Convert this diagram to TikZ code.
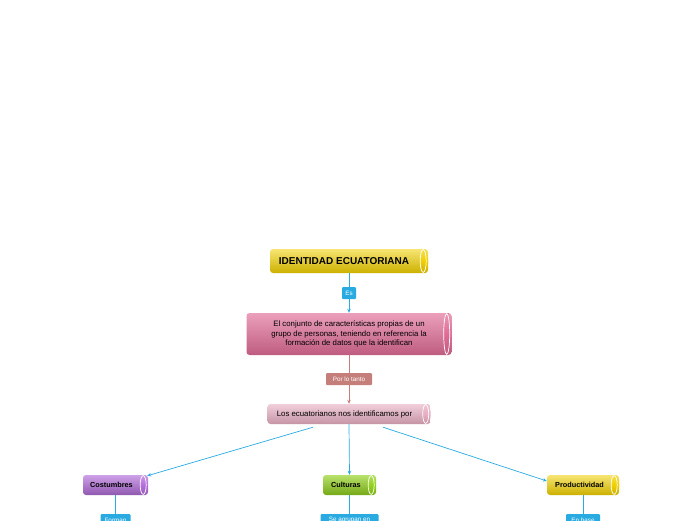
\documentclass[tikz,border=0pt]{standalone}
\usepackage{fontspec}
\setmainfont{Liberation Sans}
\usetikzlibrary{calc,arrows.meta}
\definecolor{lblue}{HTML}{29ABE2}
\definecolor{lbrown}{HTML}{C47F7A}
\tikzset{
  x=1pt,y=-1pt,
  cyl/.style={rounded corners=3pt, inner sep=0pt, align=center, text=black},
  capline/.style={draw=white, line width=0.7pt},
  lbl/.style={rounded corners=1pt, fill=lblue, text=white, font=\fontsize{6.3}{7}\selectfont, inner sep=0pt, minimum height=12pt},
  bline/.style={draw=lblue, line width=0.7pt},
  barrow/.style={bline, -{Stealth[length=4pt,width=3.5pt]}},
  brline/.style={draw=lbrown, line width=0.7pt},
  brarrow/.style={brline, -{Stealth[length=4pt,width=3.5pt]}},
}
\definecolor{cyel}{HTML}{F0D000}
\definecolor{cpink}{HTML}{E06C96}
\definecolor{clpink}{HTML}{E8AEC3}
\definecolor{cpurp}{HTML}{B46EDC}
\definecolor{cgreen}{HTML}{92D21C}
\newcommand{\rcap}[3]{% node, half height, color
  \fill[#3] ([xshift=-5pt]#1.north east) rectangle ([xshift=-3pt]#1.south east);
  \shade[top color=#3!70!white, bottom color=#3!85!black, middle color=#3] ([xshift=-4pt]#1.east) ellipse [x radius=4pt, y radius=#2];
  \draw[capline] ([xshift=-5pt]#1.east) ellipse [x radius=3pt, y radius=#2-0.6pt];
}
\begin{document}
\begin{tikzpicture}
\useasboundingbox (0,0) rectangle (696,520);
\fill[white] (0,0) rectangle (696,520);

% main title
\node[cyl, top color=cyel!55!white, middle color=cyel, bottom color=cyel!85!black,
  minimum width=158pt, minimum height=24pt, font=\bfseries\fontsize{10}{11}\selectfont]
  (id) at (349,261) {IDENTIDAD ECUATORIANA\hspace{10pt}};
\rcap{id}{12pt}{cyel}

\node[lbl, minimum width=14pt] (es) at (349,293) {Es};

% definition
\node[cyl, top color=cpink!65!white, middle color=cpink, bottom color=cpink!85!black,
  minimum width=205pt, minimum height=42pt, font=\fontsize{7.8}{9.2}\selectfont]
  (def) at (349,334) {El conjunto de características propias de un\\grupo de personas, teniendo en referencia la\\formación de datos que la identifican\hspace{0pt}};
\rcap{def}{21pt}{cpink}

\node[lbl, fill=lbrown, minimum width=46pt] (plt) at (349,379) {Por lo tanto};

% ecuatorianos
\node[cyl, top color=clpink!60!white, middle color=clpink, bottom color=clpink!85!black,
  minimum width=163pt, minimum height=20pt, font=\fontsize{7.8}{8.5}\selectfont]
  (eco) at (349,414) {Los ecuatorianos nos identificamos por\hspace{9pt}};
\rcap{eco}{10pt}{clpink}

% three categories
\node[cyl, top color=cpurp!65!white, middle color=cpurp, bottom color=cpurp!80!black,
  minimum width=65pt, minimum height=20pt, font=\bfseries\fontsize{7.3}{8}\selectfont]
  (cos) at (115.5,485) {Costumbres\hspace{8pt}};
\rcap{cos}{10pt}{cpurp}

\node[cyl, top color=cgreen!65!white, middle color=cgreen, bottom color=cgreen!80!black,
  minimum width=53pt, minimum height=20pt, font=\bfseries\fontsize{7.3}{8}\selectfont]
  (cul) at (349.5,485) {Culturas\hspace{7pt}};
\rcap{cul}{10pt}{cgreen}

\node[cyl, top color=cyel!55!white, middle color=cyel, bottom color=cyel!85!black,
  minimum width=72pt, minimum height=20pt, font=\bfseries\fontsize{7.3}{8}\selectfont]
  (pro) at (583,485) {Productividad\hspace{7pt}};
\rcap{pro}{10pt}{cyel}

% bottom labels (cut by the page edge, as in the reference)
\node[lbl, minimum width=30pt] (lc) at (115.5,520) {Forman};
\node[lbl, minimum width=58pt] (lu) at (349.5,520) {Se agrupan en};
\node[lbl, minimum width=34pt] (lp) at (583,520) {En base};

% connectors
\draw[bline] (id.south) -- (es.north);
\draw[barrow] (es.south) -- (def.north);
\draw[brline] (def.south) -- (plt.north);
\draw[brarrow] (plt.south) -- (eco.north);
\draw[barrow] ($(eco.south)+(-36,3)$) -- ($(cos.north east)+(-1,1)$);
\draw[barrow] (eco.south) -- (cul.north);
\draw[barrow] ($(eco.south)+(34,3)$) -- ($(pro.west)+(0,-4)$);
\draw[bline] (cos.south) -- (lc.north);
\draw[bline] (cul.south) -- (lu.north);
\draw[bline] (pro.south) -- (lp.north);
\end{tikzpicture}
\end{document}
